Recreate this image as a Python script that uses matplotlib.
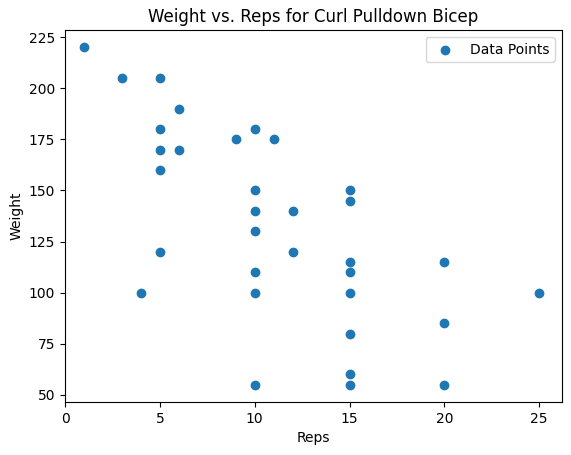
import matplotlib
matplotlib.use('Agg')
from matplotlib import pyplot as plt

# reps and weight pairs
reps = [1, 3, 5, 6, 5, 10, 9, 11, 5, 6, 5, 10, 15, 15, 10, 12, 10, 5, 12,
        15, 20, 10, 15, 4, 10, 15, 25, 20, 15, 15, 10, 15, 20]
weight = [220, 205, 205, 190, 180, 180, 175, 175, 170, 170, 160, 150, 150, 145,
          140, 140, 130, 120, 120, 115, 115, 110, 110, 100, 100, 100, 100, 85,
          80, 60, 55, 55, 55]

fig = plt.figure(figsize=(5.71, 4.55), dpi=100)
ax = fig.add_axes([65/571, 1 - 402/455, (562-65)/571, (402-30)/455])
ax.scatter(reps, weight, label='Data Points')
ax.set_xlim(0, 26.2)
ax.set_ylim(46.5, 228.5)
ax.set_xlabel('Reps')
ax.set_ylabel('Weight')
ax.set_title('Weight vs. Reps for Curl Pulldown Bicep')
ax.legend()
fig.savefig('out.png')
